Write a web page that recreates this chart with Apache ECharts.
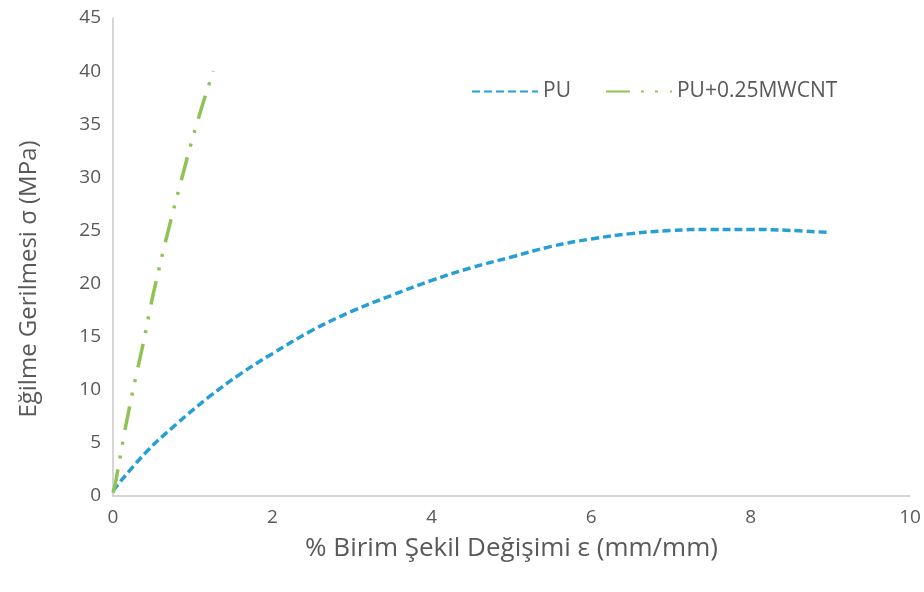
<!DOCTYPE html>
<html>
<head>
<meta charset="utf-8">
<script src="https://cdn.jsdelivr.net/npm/echarts@6/dist/echarts.min.js"></script>
<style>
html,body{margin:0;padding:0;background:#fff;}
#chart{width:924px;height:592px;}
</style>
</head>
<body>
<div id="chart"></div>
<script>
var seriesNames = ['PU', 'PU+0.25MWCNT'];
var puX = [0, 0.4, 0.8, 1.2, 1.6, 2.0, 2.5, 3.0, 3.5, 4.0, 4.5, 5.0, 5.5, 6.0, 6.5, 7.0, 7.5, 8.0, 8.5, 9.0];
var puY = [0.5, 4.0, 6.8, 9.3, 11.5, 13.4, 15.6, 17.4, 18.9, 20.3, 21.5, 22.5, 23.5, 24.2, 24.7, 25.0, 25.1, 25.1, 25.0, 24.8];
var cntX = [0, 0.03, 0.15, 0.26, 0.38, 0.49, 0.59, 0.70, 0.93, 1.03, 1.13, 1.26];
var cntY = [0.3, 1.2, 6.2, 10.3, 14.4, 18.5, 21.8, 25.2, 31.8, 34.5, 37.0, 40.0];
var xTitle = '% Birim Şekil Değişimi ε (mm/mm)';
var yTitle = 'Eğilme Gerilmesi σ (MPa)';

function pairs(xs, ys) { return xs.map(function (x, i) { return [x, ys[i]]; }); }

var FONT = '"Open Sans", "DejaVu Sans", sans-serif';
var TXT = '#595959';
var chart = echarts.init(document.getElementById('chart'), null, {renderer: 'canvas'});
chart.setOption({
  animation: false,
  backgroundColor: '#ffffff',
  textStyle: {fontFamily: FONT},
  grid: {left: 113, right: 14, top: 18, bottom: 96, containLabel: false},
  legend: {
    left: 466, top: 76,
    itemWidth: 66, itemHeight: 14, itemGap: 34,
    itemStyle: {opacity: 0},
    textStyle: {color: TXT, fontSize: 21, fontFamily: FONT},
    data: seriesNames
  },
  xAxis: {
    type: 'value', min: 0, max: 10, interval: 2,
    name: xTitle, nameLocation: 'middle', nameGap: 40,
    nameTextStyle: {color: TXT, fontSize: 26, fontFamily: FONT},
    axisLine: {show: true, lineStyle: {color: '#c8c8c8', width: 1.5}},
    axisTick: {show: false},
    splitLine: {show: false},
    axisLabel: {color: TXT, fontSize: 19, margin: 12, fontFamily: FONT}
  },
  yAxis: {
    type: 'value', min: 0, max: 45, interval: 5,
    name: yTitle, nameLocation: 'middle', nameGap: 72, nameRotate: 90,
    nameTextStyle: {color: TXT, fontSize: 24, fontFamily: FONT, padding: [0, 44, 0, 0]},
    axisLine: {show: true, lineStyle: {color: '#c8c8c8', width: 1.5}},
    axisTick: {show: false},
    splitLine: {show: false},
    axisLabel: {color: TXT, fontSize: 19, margin: 12, fontFamily: FONT}
  },
  series: [
    {
      name: seriesNames[0], type: 'line', smooth: 0.4, showSymbol: false, symbol: 'none',
      data: pairs(puX, puY),
      lineStyle: {color: '#279fd6', width: 3.5, type: [8, 4], cap: 'butt'},
      itemStyle: {color: '#279fd6'}
    },
    {
      name: seriesNames[1], type: 'line', smooth: 0.3, showSymbol: false, symbol: 'none',
      data: pairs(cntX, cntY),
      lineStyle: {color: '#8fc455', width: 3.5, type: [24, 11, 3, 11, 3, 12], cap: 'butt'},
      itemStyle: {color: '#8fc455'}
    }
  ]
});
</script>
</body>
</html>
